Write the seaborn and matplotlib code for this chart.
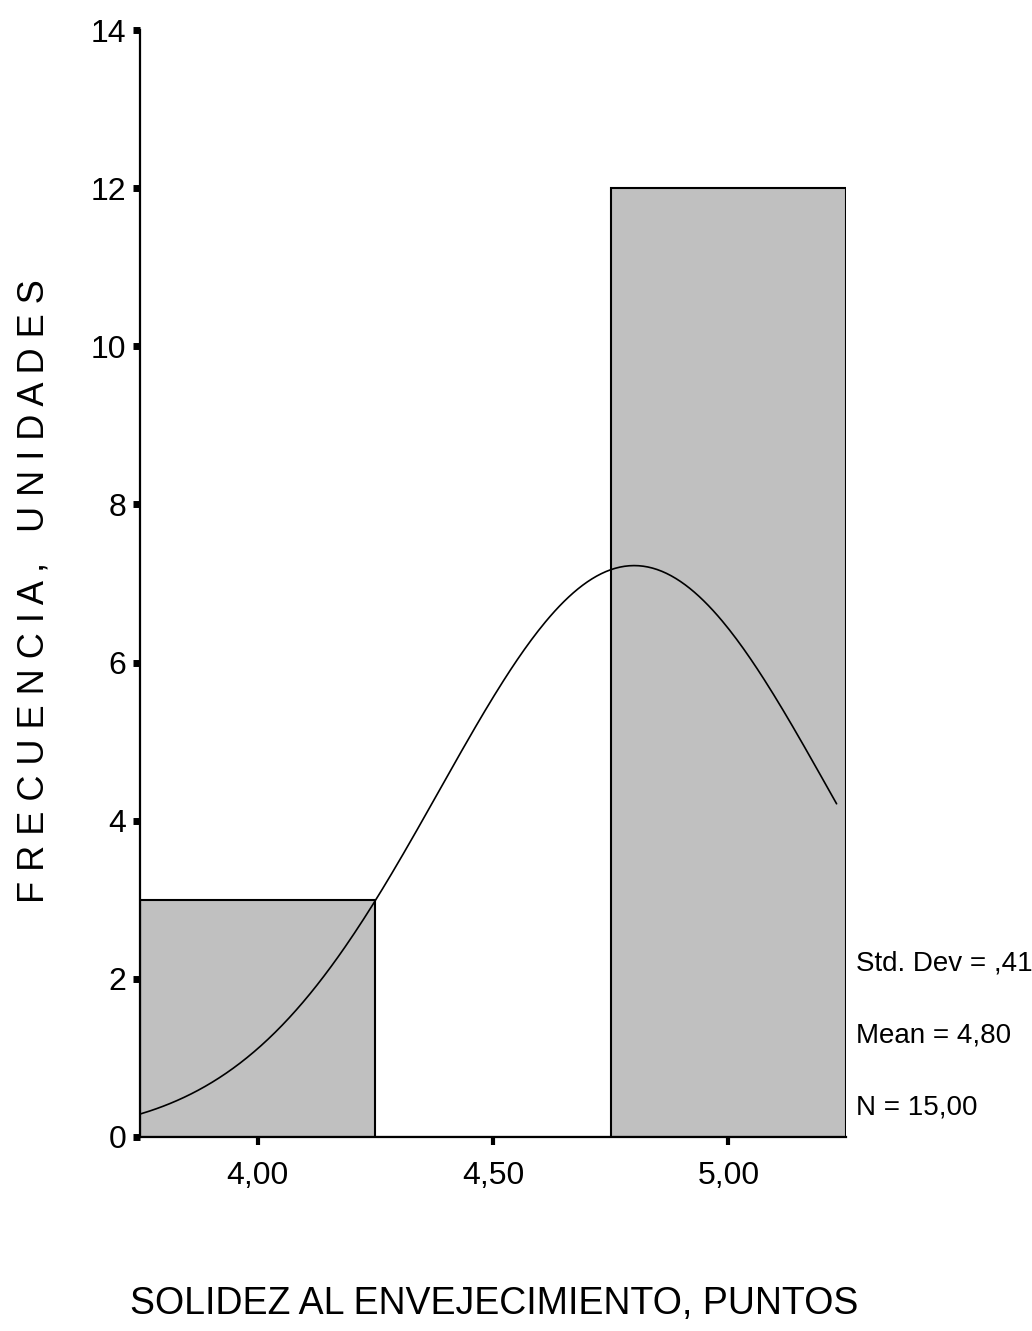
import numpy as np
import pandas as pd
import matplotlib
matplotlib.use("Agg")
import matplotlib.pyplot as plt
import seaborn as sns

# Observed scores and how many times each occurred
score_values = [4.0, 5.0]
score_counts = [3, 12]
bin_edges = [3.75, 4.25, 4.75, 5.25]
x_ticks = [4.0, 4.5, 5.0]
x_tick_labels = ["4,00", "4,50", "5,00"]
y_ticks = [0, 2, 4, 6, 8, 10, 12, 14]
stats_lines = ["Std. Dev = ,41", "Mean = 4,80", "N = 15,00"]

sns.set_theme(style="white")
plt.rcParams["font.family"] = ["Liberation Sans", "DejaVu Sans"]

data = pd.DataFrame({"score": np.repeat(score_values, score_counts)})
n = len(data)
mean = data["score"].mean()
sd = data["score"].std()
bin_width = bin_edges[1] - bin_edges[0]

W, H = 1032, 1331
fig = plt.figure(figsize=(W / 100, H / 100), dpi=100)
ax = fig.add_axes([140 / W, 1 - 1137 / H, (846 - 140) / W, (1137 - 30) / H])

sns.histplot(data=data, x="score", bins=bin_edges, stat="count",
             color="#c0c0c0", edgecolor="black", linewidth=1.5, alpha=1,
             ax=ax)

# Fitted normal curve scaled to the histogram counts
xs = np.linspace(bin_edges[0], 5.23, 300)
ys = n * bin_width / (sd * np.sqrt(2 * np.pi)) * np.exp(-0.5 * ((xs - mean) / sd) ** 2)
sns.lineplot(x=xs, y=ys, color="black", linewidth=1.2, ax=ax)

ax.set_xlim(bin_edges[0], bin_edges[-1])
ax.set_ylim(0, 14)
ax.set_xticks(x_ticks)
ax.set_xticklabels(x_tick_labels)
ax.set_yticks(y_ticks)
ax.set_yticklabels([str(t) for t in y_ticks])

for side in ["top", "right"]:
    ax.spines[side].set_visible(False)
for side in ["left", "bottom"]:
    ax.spines[side].set_linewidth(1.6)
    ax.spines[side].set_color("black")

ax.tick_params(axis="y", direction="out", length=5, width=5, colors="black",
               labelsize=23, pad=5, left=True)
ax.tick_params(axis="x", direction="out", length=6, width=3, colors="black",
               labelsize=23, pad=11, bottom=True)

ax.set_xlabel("")
ax.set_ylabel("")
fig.text(494 / W, 1 - 1304 / H, "SOLIDEZ AL ENVEJECIMIENTO, PUNTOS",
         ha="center", va="center", fontsize=27, color="black")
fig.text(34 / W, 1 - 591 / H, "F R E C U E N C I A ,   U N I D A D E S",
         ha="center", va="center", rotation=90, fontsize=26, color="black")

for label, ypix in zip(stats_lines, [963, 1035, 1107]):
    fig.text(856 / W, 1 - ypix / H, label, ha="left", va="center",
             fontsize=20, color="black")

fig.savefig("out.png", dpi=100, facecolor="white")
